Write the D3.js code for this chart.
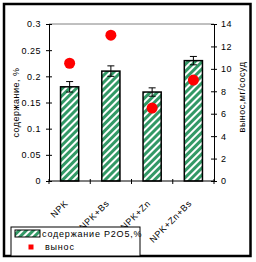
<html lang="ru">
<head>
	<meta charset="utf-8">
	<title>содержание и вынос</title>
	<script src="https://d3js.org/d3.v7.min.js"></script>
	<style>
		body { margin: 0; background: #fff; }
		svg { display: block; }
		text { font-family: "Liberation Sans", Arial, sans-serif; font-size: 9px; fill: #000; letter-spacing: 0.5px; }
		.xlab { letter-spacing: 0.6px; }
		.lgtext { letter-spacing: 0.8px; }
	</style>
</head>
<body>
<svg id="chart" width="256" height="262"></svg>
<script>
	// data
	var categories = ["NPK", "NPK+Bs", "NPK+Zn", "NPK+Zn+Bs"];
	var content = [0.18, 0.21, 0.17, 0.23];        // содержание P2O5, %
	var contentErr = [0.01, 0.01, 0.008, 0.008];
	var removal = [10.5, 13, 6.5, 9];              // вынос, мг/сосуд
	var leftTicks = [0, 0.05, 0.1, 0.15, 0.2, 0.25, 0.3];
	var rightTicks = [0, 2, 4, 6, 8, 10, 12, 14];

	var svg = d3.select("#chart");
	var plot = {left: 49, right: 214, top: 24, bottom: 181};

	var x = d3.scaleBand().domain(categories).range([plot.left, plot.right]).padding(0);
	var yL = d3.scaleLinear().domain([0, 0.3]).range([plot.bottom, plot.top]);
	var yR = d3.scaleLinear().domain([0, 14]).range([plot.bottom, plot.top]);
	var barW = x.bandwidth() * 0.44;

	//stripe pattern
	var pat = svg.append("defs").append("pattern")
		.attr("id", "stripes")
		.attr("patternUnits", "userSpaceOnUse")
		.attr("width", 5).attr("height", 5)
		.attr("patternTransform", "rotate(45)");
	pat.append("rect").attr("width", 5).attr("height", 5).attr("fill", "#fff");
	pat.append("rect").attr("width", 3).attr("height", 5).attr("fill", "#339966");

	//outer frame
	svg.append("rect")
		.attr("x", 4).attr("y", 4).attr("width", 246.5).attr("height", 252)
		.attr("fill", "none").attr("stroke", "#000").attr("stroke-width", 2.5);

	//top border of plot area
	svg.append("line")
		.attr("x1", plot.left).attr("x2", plot.right)
		.attr("y1", plot.top).attr("y2", plot.top)
		.attr("stroke", "#808080");

	//bars
	svg.selectAll(".bar")
		.data(categories)
		.enter().append("rect")
		.attr("class", "bar")
		.attr("x", function (d) { return x(d) + x.bandwidth() / 2 - barW / 2; })
		.attr("y", function (d, i) { return yL(content[i]); })
		.attr("width", barW)
		.attr("height", function (d, i) { return yL(0) - yL(content[i]); })
		.attr("fill", "url(#stripes)")
		.attr("stroke", "#000")
		.attr("stroke-width", 1.5);

	//error bars
	var err = svg.selectAll(".err")
		.data(categories)
		.enter().append("g")
		.attr("class", "err")
		.attr("stroke", "#000");
	err.append("line")
		.attr("x1", function (d) { return x(d) + x.bandwidth() / 2; })
		.attr("x2", function (d) { return x(d) + x.bandwidth() / 2; })
		.attr("y1", function (d, i) { return yL(content[i] - contentErr[i]); })
		.attr("y2", function (d, i) { return yL(content[i] + contentErr[i]); });
	[-1, 1].forEach(function (s) {
		err.append("line")
			.attr("x1", function (d) { return x(d) + x.bandwidth() / 2 - 3.5; })
			.attr("x2", function (d) { return x(d) + x.bandwidth() / 2 + 3.5; })
			.attr("y1", function (d, i) { return yL(content[i] + s * contentErr[i]); })
			.attr("y2", function (d, i) { return yL(content[i] + s * contentErr[i]); });
	});

	//points
	svg.selectAll(".pt")
		.data(categories)
		.enter().append("circle")
		.attr("class", "pt")
		.attr("cx", function (d) { return x(d) + x.bandwidth() / 2; })
		.attr("cy", function (d, i) { return yR(removal[i]); })
		.attr("r", 5.5)
		.attr("fill", "#ff0000");

	//left axis
	var gl = svg.append("g")
		.attr("transform", "translate(" + plot.left + ",0)")
		.call(d3.axisLeft(yL).tickValues(leftTicks).tickSize(3).tickSizeOuter(0).tickPadding(5)
			.tickFormat(function (d) { return String(d); }));
	gl.selectAll(".tick line").attr("x1", 3);
	gl.selectAll("text").attr("font-size", null).attr("font-family", null);

	//right axis
	var gr = svg.append("g")
		.attr("transform", "translate(" + plot.right + ",0)")
		.call(d3.axisRight(yR).tickValues(rightTicks).tickSize(3).tickSizeOuter(0).tickPadding(4));
	gr.selectAll(".tick line").attr("x1", -3);
	gr.selectAll("text").attr("font-size", null).attr("font-family", null);

	//x axis line and boundary ticks
	svg.append("line")
		.attr("x1", plot.left).attr("x2", plot.right)
		.attr("y1", plot.bottom).attr("y2", plot.bottom)
		.attr("stroke", "#000");
	var bounds = categories.map(function (c) { return x(c); }).concat([x.range()[1]]);
	svg.selectAll(".xtick")
		.data(bounds)
		.enter().append("line")
		.attr("class", "xtick")
		.attr("x1", function (d) { return d; }).attr("x2", function (d) { return d; })
		.attr("y1", plot.bottom - 2).attr("y2", plot.bottom + 3)
		.attr("stroke", "#000");

	//x labels
	svg.selectAll(".xlab")
		.data(categories)
		.enter().append("text")
		.attr("class", "xlab")
		.attr("text-anchor", "end")
		.attr("transform", function (d) {
			return "translate(" + (x(d) + x.bandwidth() / 2 - 1) + "," + (plot.bottom + 23) + ") rotate(-45)";
		})
		.text(function (d) { return d; });

	//axis titles
	svg.append("text")
		.attr("text-anchor", "middle")
		.attr("transform", "translate(18.5," + (plot.top + plot.bottom) / 2 + ") rotate(-90)")
		.text("содержание, %");
	svg.append("text")
		.attr("text-anchor", "middle")
		.attr("transform", "translate(245,97) rotate(-90)")
		.text("вынос,мг/сосуд");

	//legend
	var lg = svg.append("g");
	lg.append("rect")
		.attr("x", 11).attr("y", 227).attr("width", 129).attr("height", 29)
		.attr("fill", "#fff").attr("stroke", "#000");
	lg.append("rect")
		.attr("x", 15).attr("y", 230).attr("width", 25).attr("height", 7)
		.attr("fill", "url(#stripes)").attr("stroke", "#000");
	lg.append("text").attr("class", "lgtext").attr("x", 42).attr("y", 237).text("содержание Р2О5,%");
	lg.append("rect")
		.attr("x", 28.5).attr("y", 244.5).attr("width", 5).attr("height", 5)
		.attr("fill", "#ff0000");
	lg.append("text").attr("class", "lgtext").attr("x", 45).attr("y", 250).text("вынос");
</script>
</body>
</html>
